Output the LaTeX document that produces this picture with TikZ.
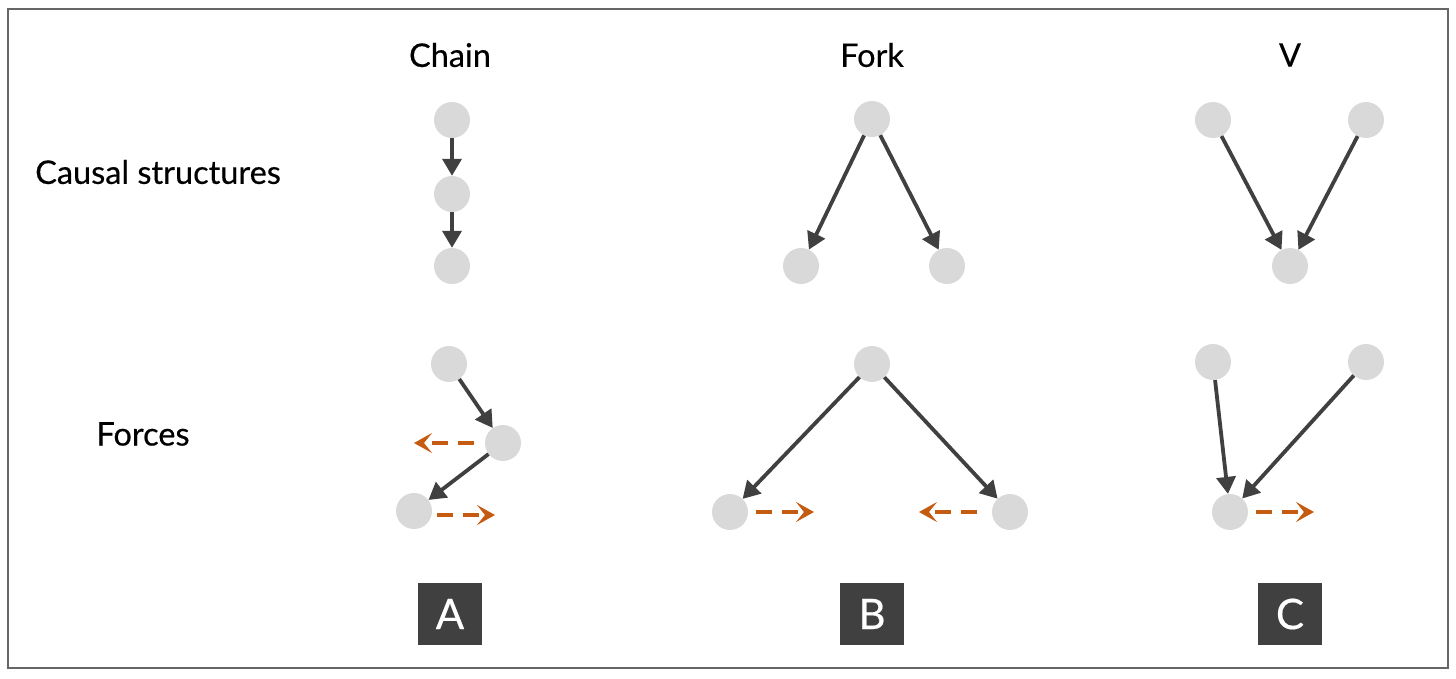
\documentclass[tikz,border=0pt]{standalone}
\usepackage{fontspec}
\setmainfont{Lato}
\newfontfamily\lblfont{Lato}[FakeBold=0.4]
\usetikzlibrary{arrows.meta}
\definecolor{nodegray}{HTML}{D9D9D9}
\definecolor{darkline}{HTML}{404040}
\definecolor{forceorange}{HTML}{C55A11}
\definecolor{framegray}{HTML}{666666}
\tikzset{
  vnode/.style={circle, fill=nodegray, draw=none, minimum size=36pt, inner sep=0pt},
  carrow/.style={draw=darkline, line width=3.8pt, -{Triangle[length=17pt,width=19pt]}, shorten <=0pt},
  farrow/.style={draw=forceorange, line width=3.5pt, dash pattern=on 16pt off 10pt, -{Stealth[length=18pt,width=20pt,inset=8pt]}},
  lbl/.style={font=\lblfont\fontsize{32.5}{36}\selectfont, text=black, inner sep=0pt},
  tag/.style={fill=darkline, text=white, minimum width=64pt, minimum height=62pt, inner sep=0pt, font=\lblfont\fontsize{42}{46}\selectfont}
}
\begin{document}
\begin{tikzpicture}[x=1pt,y=-1pt]
\useasboundingbox (0,0) rectangle (1456,678);
\node[draw=framegray, line width=2pt, minimum width=1440pt, minimum height=659pt, inner sep=0pt] (frame) at (728,338) {};

% column titles
\node[lbl] (tChain) at (450,55) {Chain};
\node[lbl] (tFork) at (872,55) {Fork};
\node[lbl] (tV) at (1290,55) {V};
\node[lbl] (tCausal) at (158,172) {Causal structures};
\node[lbl] (tForces) at (143,434) {Forces};

% causal chain
\node[vnode] (a1) at (452,120) {};
\node[vnode] (a2) at (452,194) {};
\node[vnode] (a3) at (452,266) {};
\draw[carrow] (a1) -- (a2);
\draw[carrow] (a2) -- (a3);

% causal fork
\node[vnode] (b1) at (872,119) {};
\node[vnode] (b2) at (801,266) {};
\node[vnode] (b3) at (947,266) {};
\draw[carrow] (b1) -- (b2);
\draw[carrow] (b1) -- (b3);

% causal V
\node[vnode] (c1) at (1213,120) {};
\node[vnode] (c2) at (1366,120) {};
\node[vnode] (c3) at (1290,266) {};
\draw[carrow] (c1) -- (c3);
\draw[carrow] (c2) -- (c3);

% forces chain
\node[vnode] (d1) at (449,364) {};
\node[vnode] (d2) at (503,443) {};
\node[vnode] (d3) at (414,511) {};
\draw[carrow] (d1) -- (d2);
\draw[carrow] (d2) -- (d3);
\coordinate (d2s) at (474,443);
\coordinate (d2e) at (414,443);
\coordinate (d3s) at (437,515);
\coordinate (d3e) at (495,515);
\draw[farrow] (d2s) -- (d2e);
\draw[farrow] (d3s) -- (d3e);

% forces fork
\node[vnode] (e1) at (872,364) {};
\node[vnode] (e2) at (730,512) {};
\node[vnode] (e3) at (1010,512) {};
\draw[carrow] (e1) -- (e2);
\draw[carrow] (e1) -- (e3);
\coordinate (e2s) at (756,512);
\coordinate (e2e) at (814,512);
\coordinate (e3s) at (977,512);
\coordinate (e3e) at (919,512);
\draw[farrow] (e2s) -- (e2e);
\draw[farrow] (e3s) -- (e3e);

% forces V
\node[vnode] (g1) at (1213,362) {};
\node[vnode] (g2) at (1366,362) {};
\node[vnode] (g3) at (1230,512) {};
\draw[carrow] (g1) -- (g3);
\draw[carrow] (g2) -- (g3);
\coordinate (g3s) at (1256,512);
\coordinate (g3e) at (1314,512);
\draw[farrow] (g3s) -- (g3e);

% tags
\node[tag] (tagA) at (450,614) {A};
\node[tag] (tagB) at (872,614) {B};
\node[tag] (tagC) at (1290,614) {C};
\end{tikzpicture}
\end{document}
